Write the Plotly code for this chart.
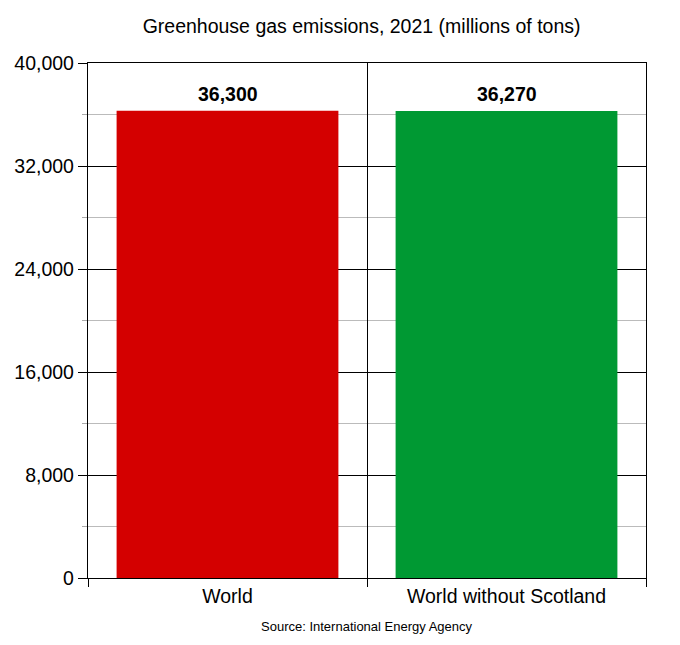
import plotly.graph_objects as go

categories = ["World", "World without Scotland"]
values = [36300, 36270]
colors = ["#d40000", "#009933"]
title_text = "Greenhouse gas emissions, 2021 (millions of tons)"
source_text = "Source: International Energy Agency"

FONT = "Liberation Sans, Arial, sans-serif"

fig = go.Figure()
fig.add_trace(go.Bar(
    x=categories, y=values,
    marker=dict(color=colors, line=dict(width=0)),
    width=0.795,
    hoverinfo="x+y",
))

for c, v in zip(categories, values):
    fig.add_annotation(
        x=c, y=v, text=f"<b>{v:,}</b>", showarrow=False,
        yanchor="bottom", yshift=4,
        font=dict(family=FONT, size=19.5, color="black"),
    )

fig.add_annotation(
    x=0.5, y=-0.095, xref="paper", yref="paper", text=source_text,
    showarrow=False, yanchor="middle",
    font=dict(family=FONT, size=13, color="black"),
)

fig.update_layout(
    width=680, height=645,
    margin=dict(l=80, r=42, t=55, b=75, autoexpand=False),
    paper_bgcolor="white", plot_bgcolor="white",
    font=dict(family=FONT, size=19.5, color="black"),
    title=dict(text=title_text, x=0.52, xanchor="center", y=0.972, yanchor="middle",
               font=dict(family=FONT, size=19.5, color="black")),
    showlegend=False,
)

fig.update_xaxes(
    type="category",
    tickson="boundaries",
    automargin=False,
    ticks="outside", ticklen=8, tickcolor="black", tickwidth=1.3,
    showgrid=True, gridcolor="black", gridwidth=1.3,
    showline=True, linecolor="black", linewidth=1.3, mirror=True,
    tickfont=dict(family=FONT, size=19.5, color="black"),
)

fig.update_yaxes(
    range=[0, 40000], dtick=8000, tick0=0,
    tickformat=",",
    automargin=False,
    ticks="outside", ticklen=9, tickcolor="black", tickwidth=1.3,
    showgrid=True, gridcolor="black", gridwidth=1.3,
    showline=True, linecolor="black", linewidth=1.3, mirror=True,
    zeroline=False,
    tickfont=dict(family=FONT, size=19.5, color="black"),
    minor=dict(dtick=4000, tick0=0, ticks="outside", ticklen=5,
               tickcolor="#aaaaaa", showgrid=True, gridcolor="#bbbbbb", gridwidth=1),
)

fig.write_html("out.html")
